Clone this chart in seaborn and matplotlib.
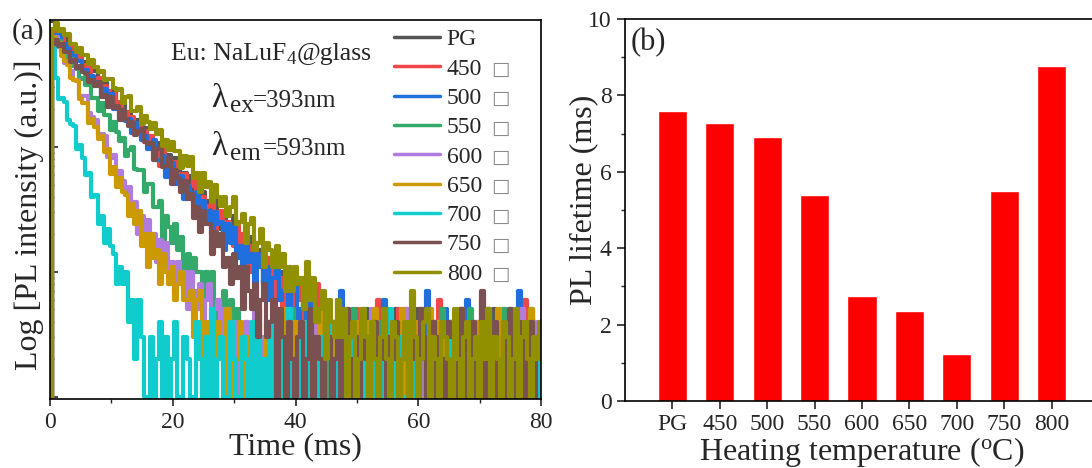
import numpy as np
import pandas as pd
import matplotlib
matplotlib.use("Agg")
import matplotlib.pyplot as plt
from matplotlib.lines import Line2D
from matplotlib.ticker import LogLocator, MultipleLocator, NullFormatter
import seaborn as sns

# ---------------------------------------------------------------------------
# (a) photoluminescence decay traces, photon counts every 0.5 ms from t = 0
# ---------------------------------------------------------------------------
STEP_MS = 0.5
SAMPLES = ["PG", "450", "500", "550", "600", "650", "700", "750", "800"]
COLORS = ["#555555", "#f04848", "#1f6fdf", "#33aa6a", "#b07ce0",
          "#cc9900", "#10cccc", "#7a5050", "#909000"]

COUNTS_PG = [
    0, 830, 853, 845, 721, 775, 670, 664, 558, 598, 526, 472, 483, 407, 409, 407,
    342, 328, 330, 258, 282, 285, 217, 216, 228, 167, 192, 172, 149, 166, 134, 142,
    108, 117, 97, 108, 95, 94, 68, 87, 69, 82, 68, 49, 62, 50, 59, 40,
    44, 32, 44, 34, 37, 25, 38, 28, 22, 30, 18, 24, 28, 17, 18, 20,
    12, 17, 19, 11, 12, 15, 8, 13, 11, 8, 12, 8, 10, 5, 8, 5,
    8, 7, 7, 4, 7, 5, 7, 3, 5, 2,
    3, 2, 4, 1, 2, 5, 1, 3, 4, 1, 2, 3, 1, 5, 2, 1, 4, 3, 1, 2, 4, 1, 3, 5,
    1, 2, 3, 4, 1, 2, 5, 3, 1, 2, 4, 1, 3, 2, 5, 1, 2, 4, 3, 1, 2, 5, 1, 3,
    4, 1, 2, 3, 1, 4, 2, 5, 1, 3, 2, 1, 4, 3, 1, 2, 5, 1, 3, 4, 2, 1, 3, 2, 4,
]
COUNTS_450 = [
    0, 790, 853, 766, 783, 660, 664, 661, 554, 531, 521, 439, 450, 440, 366, 353,
    355, 290, 310, 280, 240, 268, 216, 229, 173, 190, 156, 173, 152, 148, 118, 134,
    114, 123, 93, 97, 70, 97, 74, 81, 55, 76, 61, 51, 61, 42, 49, 54,
    38, 38, 40, 28, 34, 40, 22, 25, 31, 15, 25, 22, 16, 24, 16, 20,
    11, 16, 10, 15, 12, 13, 8, 13, 9, 13, 6, 9, 4, 10, 6, 8,
    3, 9, 6, 4, 7, 3, 5, 8, 3, 2,
    4, 1, 3, 2, 6, 1, 2, 4, 3, 1, 5, 2, 1, 3, 4, 1, 2, 6, 3, 1, 2, 4, 1, 3,
    5, 2, 1, 4, 3, 1, 2, 5, 1, 3, 2, 4, 1, 6, 2, 1, 3, 4, 2, 1, 5, 3, 1, 2,
    4, 1, 3, 6, 1, 2, 3, 4, 1, 2, 5, 1, 3, 2, 4, 1, 3, 6, 2, 1, 4, 3, 1, 2, 5,
]
COUNTS_500 = [
    0, 760, 783, 786, 640, 671, 613, 545, 565, 484, 486, 403, 411, 358, 368, 331,
    317, 258, 290, 246, 267, 202, 210, 167, 199, 162, 167, 129, 155, 130, 113, 122,
    96, 103, 113, 79, 79, 84, 58, 71, 75, 51, 53, 59, 38, 49, 43, 35,
    44, 33, 37, 25, 31, 20, 30, 24, 25, 15, 24, 17, 23, 13, 16, 10,
    17, 12, 14, 8, 14, 11, 8, 11, 6, 9, 11, 6, 7, 8, 4, 7,
    8, 4, 5, 7, 2, 9, 4, 3, 1,
    3, 5, 1, 2, 4, 1, 7, 2, 3, 1, 4, 2, 1, 5, 3, 1, 2, 4, 3, 1, 6, 2, 1, 3,
    4, 1, 2, 5, 1, 3, 2, 4, 1, 3, 7, 1, 2, 4, 3, 1, 5, 2, 1, 3, 4, 2, 1, 6,
    3, 1, 2, 4, 1, 3, 5, 2, 1, 4, 2, 3, 1, 5, 2, 1, 7, 3, 1, 2, 4, 1, 3, 2, 5,
]
COUNTS_550 = [
    0, 700, 709, 702, 574, 580, 497, 503, 445, 419, 352, 360, 313, 329, 245, 248,
    193, 225, 180, 182, 137, 159, 131, 111, 118, 84, 94, 100, 67, 66, 66, 44,
    51, 51, 33, 33, 37, 18, 28, 23, 17, 24, 15, 19, 10, 14, 8, 13,
    10, 10, 5, 10, 7, 10, 4, 6, 2, 7, 4, 6, 1, 5, 3, 1, 4,
    2, 1, 3, 5, 1, 2, 4, 1, 3, 2, 1, 4, 3, 1, 5, 2, 1, 3, 4, 1, 2, 3, 1, 4,
    2, 5, 1, 3, 2, 1, 4, 3, 1, 2, 5, 1, 3, 4, 1, 2, 3, 1, 4, 2, 1, 5, 3, 1,
    2, 4, 1, 3, 2, 5, 1, 2, 4, 3, 1, 2, 4, 1, 3, 5, 1, 2, 3, 1, 4, 2, 1, 3,
    5, 1, 2, 4, 3, 1, 2, 4, 1, 3, 2, 5, 1, 3, 2, 1, 4, 3, 1, 2, 5, 1, 3, 4,
    2, 1,
]
COUNTS_600 = [
    0, 690, 767, 630, 592, 473, 483, 404, 345, 345, 256, 258, 254, 186, 173, 166,
    123, 127, 122, 83, 81, 87, 52, 64, 53, 41, 48, 34, 36, 20, 28, 18,
    26, 20, 20, 12, 18, 13, 17, 10, 12, 7, 12, 8, 10, 5, 10, 7,
    5, 8, 4, 6, 8, 4, 5, 6, 2, 5, 3, 1, 4,
    2, 1, 3, 4, 1, 2, 5, 1, 3, 2, 1, 4, 3, 1, 2, 4, 1, 5, 2, 1, 3, 4, 1, 2,
    3, 1, 5, 2, 1, 4, 3, 1, 2, 4, 1, 3, 5, 1, 2, 3, 1, 4, 2, 1, 5, 3, 1, 2,
    4, 1, 3, 2, 4, 1, 2, 5, 3, 1, 2, 4, 1, 3, 1, 5, 2, 1, 3, 4, 1, 2, 3, 1,
    4, 5, 1, 2, 3, 1, 4, 2, 1, 3, 5, 1, 2, 4, 1, 3, 2, 1, 4, 3, 1, 5, 2, 1,
    3, 4, 1, 2, 3,
]
COUNTS_650 = [
    0, 760, 721, 677, 537, 487, 451, 358, 347, 338, 243, 227, 226, 157, 169, 144,
    116, 122, 91, 97, 61, 69, 48, 56, 44, 41, 28, 35, 24, 31, 16, 20,
    11, 20, 13, 15, 8, 14, 10, 8, 11, 6, 8, 10, 6, 6, 7, 3,
    6, 7, 1, 4, 2,
    3, 1, 4, 2, 1, 5, 3, 1, 2, 4, 1, 3, 2, 1, 4, 5, 1, 2, 3, 1, 4, 2, 1, 3,
    5, 1, 2, 4, 3, 1, 2, 4, 1, 3, 2, 5, 1, 2, 3, 1, 4, 2, 1, 5, 3, 1, 2, 4,
    1, 3, 4, 1, 2, 5, 1, 3, 2, 1, 4, 3, 1, 2, 5, 1, 3, 2, 4, 1, 2, 3, 1, 5,
    2, 1, 4, 3, 1, 2, 4, 1, 3, 5, 1, 2, 3, 1, 4, 2, 1, 3, 4, 1, 2, 5, 1, 3,
    2, 1, 4, 3, 1, 2, 4, 1, 5, 3, 1, 2, 3, 1,
]
COUNTS_700 = [
    0, 640, 354, 241, 245, 231, 164, 152, 146, 97, 104, 82, 60, 62, 40, 41,
    24, 28, 17, 22, 16, 14, 8, 11, 8, 10, 4, 6, 2, 6, 3, 1,
    0, 3, 0, 2, 4, 1, 3, 0, 2,
    4, 1, 0, 3, 2, 0, 1, 4, 2, 0, 3, 1, 5, 0, 2, 3, 1, 0, 4, 2, 1, 0, 3, 2,
    0, 4, 1, 3, 0, 2, 1, 4, 0, 2, 3, 1, 0, 5, 1, 2, 0, 3, 1, 4, 0, 2, 1, 3,
    0, 2, 4, 1, 0, 3, 2, 1, 0, 4, 2, 0, 3, 1, 2, 0, 4, 1, 3, 0, 2, 1, 5, 0,
    2, 3, 1, 0, 4, 2, 1, 0, 3, 2, 0, 4, 1, 3, 0, 2, 1, 4, 0, 3, 2, 1, 0, 4,
    2, 0, 3, 1, 2, 0, 5, 1, 3, 0, 2, 1, 4, 0, 3, 2, 1, 0, 4, 2, 0, 3, 1, 2,
    0, 4,
]
COUNTS_750 = [
    0, 670, 716, 639, 666, 574, 578, 481, 494, 430, 446, 402, 387, 332, 346, 308,
    331, 253, 263, 209, 250, 206, 213, 165, 198, 167, 146, 159, 125, 134, 139, 109,
    106, 108, 78, 96, 101, 69, 71, 81, 51, 65, 56, 44, 53, 38, 42, 27,
    33, 21, 31, 24, 24, 14, 21, 16, 20, 11, 13, 8, 14, 9, 11, 5,
    11, 7, 5, 8, 3, 6, 8, 3, 4, 6, 1, 5, 3, 1, 4, 2, 1,
    3, 4, 1, 2, 5, 1, 3, 2, 1, 4, 3, 1, 2, 4, 1, 3, 5, 1, 2, 3, 1, 4, 2, 1,
    3, 4, 1, 2, 5, 1, 3, 2, 4, 1, 2, 3, 1, 4, 2, 1, 5, 3, 1, 2, 4, 1, 3, 2,
    1, 4, 3, 1, 2, 5, 1, 3, 2, 4, 1, 2, 7, 1, 3, 2, 4, 1, 2, 3, 1, 5, 2, 1,
    4, 3, 1, 2, 4, 1, 3, 2, 5, 1,
]
COUNTS_800 = [
    0, 880, 978, 842, 881, 785, 806, 674, 672, 578, 625, 544, 542, 458, 496, 439,
    397, 408, 346, 351, 351, 296, 284, 291, 227, 251, 256, 196, 195, 209, 154, 177,
    160, 139, 157, 126, 136, 102, 114, 94, 109, 93, 93, 68, 85, 70, 83, 56,
    62, 44, 62, 48, 52, 36, 50, 40, 34, 40, 28, 33, 40, 24, 25, 29,
    17, 24, 27, 15, 17, 22, 11, 17, 15, 11, 16, 11, 14, 7, 11, 7,
    11, 8, 9, 5, 12, 6, 9, 4, 5, 7, 2, 6, 4, 3, 6, 3, 5, 1,
    3, 4, 1, 2, 5, 3, 1, 4, 2, 1, 3, 5, 2, 1, 4, 3, 1, 2, 4, 1, 7, 3, 1, 2,
    4, 5, 1, 3, 2, 1, 4, 3, 2, 1, 5, 2, 1, 3, 4, 1, 2, 3, 1, 4, 2, 5, 1, 3,
    2, 1, 4, 3, 1, 2, 5, 1, 3, 4, 2, 1, 3, 2, 4, 1, 3,
]

# ---------------------------------------------------------------------------
# (b) fitted PL lifetime for each heating temperature
# ---------------------------------------------------------------------------
TEMPERATURES = ["PG", "450", "500", "550", "600", "650", "700", "750", "800"]
LIFETIME_MS = [7.58, 7.28, 6.91, 5.40, 2.76, 2.36, 1.23, 5.50, 8.76]

# ---------------------------------------------------------------------------
sns.set_style("ticks")
plt.rcParams["font.family"] = ["Liberation Serif", "DejaVu Sans"]
plt.rcParams["mathtext.fontset"] = "custom"
plt.rcParams["mathtext.rm"] = "Liberation Serif"
plt.rcParams["mathtext.it"] = "Liberation Serif:italic"
plt.rcParams["axes.linewidth"] = 1.2
plt.rcParams["axes.edgecolor"] = "black"

W, H = 1092, 468
fig = plt.figure(figsize=(W / 100, H / 100), dpi=100)


def px(x, y):
    """Pixel position (from the top-left corner) to figure fraction."""
    return x / W, 1 - y / H


ax1 = fig.add_axes([50 / W, (H - 399) / H, 491 / W, 379 / H])
ax2 = fig.add_axes([625 / W, (H - 401) / H, 474 / W, 382 / H])

# ---- panel (a) -------------------------------------------------------------
all_counts = [COUNTS_PG, COUNTS_450, COUNTS_500, COUNTS_550, COUNTS_600,
              COUNTS_650, COUNTS_700, COUNTS_750, COUNTS_800]
frames = []
for name, counts in zip(SAMPLES, all_counts):
    frames.append(pd.DataFrame({
        "time": np.arange(len(counts)) * STEP_MS,
        "counts": counts,
        "sample": name,
    }))
decay = pd.concat(frames, ignore_index=True)
palette = dict(zip(SAMPLES, COLORS))

sns.lineplot(data=decay, x="time", y="counts", hue="sample", hue_order=SAMPLES,
             palette=palette, estimator=None, sort=False, errorbar=None,
             legend=False, linewidth=3.0, drawstyle="steps-mid", ax=ax1)
ax1.set_yscale("log", nonpositive="clip")
ax1.set_xlim(0, 80)
ax1.set_ylim(0.96, 1040)

ax1.xaxis.set_major_locator(MultipleLocator(20))
ax1.xaxis.set_minor_locator(MultipleLocator(10))
ax1.yaxis.set_major_locator(LogLocator(base=10, numticks=10))
ax1.yaxis.set_minor_locator(LogLocator(base=10, subs=np.arange(2, 10), numticks=20))
ax1.yaxis.set_minor_formatter(NullFormatter())
ax1.tick_params(axis="x", which="major", direction="out", length=5, width=1.2,
                labelsize=17, pad=4)
ax1.tick_params(axis="x", which="minor", direction="out", length=3, width=1.0)
ax1.tick_params(axis="y", which="major", direction="in", length=6, width=1.2,
                labelleft=False)
ax1.tick_params(axis="y", which="minor", direction="in", length=3, width=1.0)
ax1.set_xlabel("Time (ms)", fontsize=23, labelpad=0)
ax1.set_ylabel("Log [PL intensity (a.u.)]", fontsize=23)
ax1.yaxis.set_label_coords(-0.012, 0.485)

handles = [Line2D([], [], color=c, lw=2.5) for c in COLORS]
leg = ax1.legend(handles, SAMPLES, loc="upper left", bbox_to_anchor=(0.70, 0.977),
                 frameon=False, fontsize=17, handlelength=1.95, handletextpad=0.3,
                 labelspacing=0.33, borderaxespad=0, borderpad=0)

fig.text(*px(28, 32), "(a)", fontsize=21, ha="center", va="center")

# composition label with a lowered subscript
eu = fig.text(*px(171, 60), "Eu: NaLuF", fontsize=18.5, va="baseline")
sub4 = ax1.annotate("4", xy=(1, 0), xycoords=eu, xytext=(0.5, -2.5),
                    textcoords="offset points", fontsize=13.5, va="bottom")
ax1.annotate("@glass", xy=(1, 0), xycoords=(sub4, eu), xytext=(0.5, 0),
             textcoords="offset points", fontsize=18.5, va="bottom")

fig.text(*px(211, 107), "\u03bb", fontsize=24, va="baseline")
fig.text(*px(230, 112), "ex", fontsize=18, va="baseline")
fig.text(*px(253, 107), "=393nm", fontsize=18, va="baseline")
fig.text(*px(211, 155), "\u03bb", fontsize=24, va="baseline")
fig.text(*px(230, 160), "em", fontsize=18, va="baseline")
fig.text(*px(263, 155), "=593nm", fontsize=18, va="baseline")

# ---- panel (b) -------------------------------------------------------------
sns.barplot(x=TEMPERATURES, y=LIFETIME_MS, color="#ff0000", saturation=1,
            width=0.62, ax=ax2)
ax2.set_xlim(-1, 9)
ax2.set_ylim(0, 10)
ax2.yaxis.set_major_locator(MultipleLocator(2))
ax2.yaxis.set_minor_locator(MultipleLocator(1))
ax2.tick_params(axis="both", which="major", direction="out", length=6, width=1.2,
                labelsize=17)
ax2.tick_params(axis="y", which="minor", direction="out", length=3, width=1.0)
ax2.set_xlabel(r"Heating temperature ($\mathregular{^o}$C)", fontsize=23, labelpad=0)
ax2.set_ylabel("PL lifetime (ms)", fontsize=23)
ax2.yaxis.set_label_coords(-0.057, 0.526)
fig.text(*px(648, 43), "(b)", fontsize=22, ha="center", va="center")

# the temperature entries of the legend carry a grey box after the number
fig.canvas.draw()
for txt in leg.get_texts()[1:]:
    ax1.annotate("\u25a1", xy=(1, 0), xycoords=txt, xytext=(6.5, 0.5),
                 textcoords="offset points", fontsize=14, color="#8a8a8a",
                 va="bottom", family="DejaVu Sans", zorder=6)

fig.savefig("out.png", dpi=100)
